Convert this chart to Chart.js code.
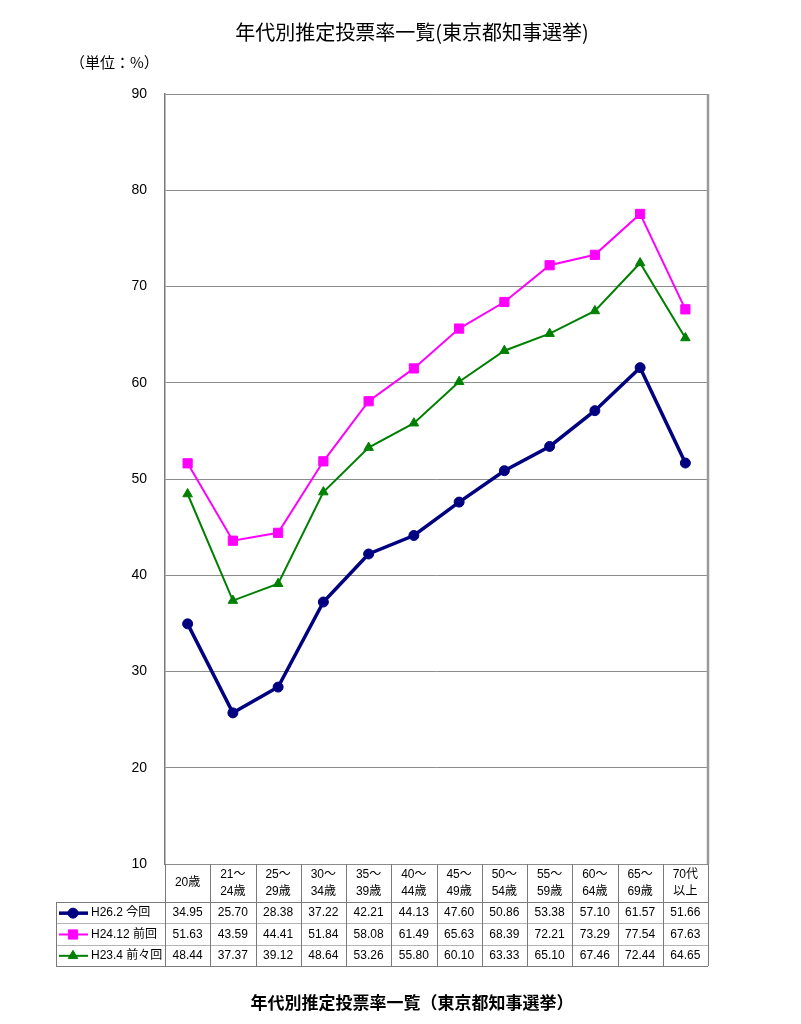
<!DOCTYPE html>
<html><head><meta charset="utf-8">
<script src="https://cdn.jsdelivr.net/npm/chart.js@4.4.1/dist/chart.umd.min.js"></script>
<style>
body{margin:0;background:#fff;}
#wrap{position:relative;width:801px;height:1024px;overflow:hidden;}
canvas{position:absolute;left:0;top:0;}
.t{position:absolute;font-family:"Noto Sans CJK JP";white-space:nowrap;color:#000;}
</style></head><body>
<div id="wrap">
<canvas id="c" width="801" height="1024"></canvas>
<div class="t" style="left:0;width:824px;text-align:center;top:21px;font-size:20px;line-height:22px;">年代別推定投票率一覧(東京都知事選挙)</div>
<div class="t" style="left:70px;top:53px;font-size:15px;line-height:18px;">（単位：%）</div>
<div class="t" style="left:0;width:824px;text-align:center;top:991px;font-size:17px;line-height:22px;font-weight:bold;">年代別推定投票率一覧（東京都知事選挙）</div>
</div>
<script>
const categories = [['20歳'],['21～','24歳'],['25～','29歳'],['30～','34歳'],['35～','39歳'],['40～','44歳'],['45～','49歳'],['50～','54歳'],['55～','59歳'],['60～','64歳'],['65～','69歳'],['70代','以上']];
const seriesNames = ['H26.2 今回','H24.12 前回','H23.4 前々回'];
const h26 = [34.95,25.70,28.38,37.22,42.21,44.13,47.60,50.86,53.38,57.10,61.57,51.66];
const h24 = [51.63,43.59,44.41,51.84,58.08,61.49,65.63,68.39,72.21,73.29,77.54,67.63];
const h23 = [48.44,37.37,39.12,48.64,53.26,55.80,60.10,63.33,65.10,67.46,72.44,64.65];
const yMin = 10, yMax = 90, yStep = 10;

const tableFont = '12px "Liberation Sans", "Noto Sans CJK JP"';

const tablePlugin = {
  id:'dataTable',
  afterDraw(chart){
    const ctx = chart.ctx, ca = chart.chartArea, xs = chart.scales.x;
    const n = categories.length;
    const edges = [];
    for(let i=0;i<=n;i++){
      if(i===0) edges.push(ca.left);
      else if(i===n) edges.push(ca.right);
      else edges.push((xs.getPixelForValue(i-1)+xs.getPixelForValue(i))/2);
    }
    const top = ca.bottom, headerH = 38, rowH = 21.33;
    const hb = top + headerH, bottom = hb + rowH*3;
    const legL = 56;
    ctx.save();
    // right plot border
    ctx.strokeStyle = '#9a9a9a'; ctx.lineWidth = 2.5;
    ctx.beginPath(); ctx.moveTo(ca.right, ca.top); ctx.lineTo(ca.right, ca.bottom); ctx.stroke();
    // table lines
    ctx.lineWidth = 1;
    ctx.strokeStyle = '#b4b4b4';
    for(let r=1;r<3;r++){
      const y = Math.round(hb + rowH*r)+0.5;
      ctx.beginPath(); ctx.moveTo(legL, y); ctx.lineTo(ca.right, y); ctx.stroke();
    }
    ctx.strokeStyle = '#7a7a7a';
    ctx.beginPath(); ctx.moveTo(legL, Math.round(hb)+0.5); ctx.lineTo(ca.right, Math.round(hb)+0.5); ctx.stroke();
    ctx.beginPath(); ctx.moveTo(legL, Math.round(bottom)+0.5); ctx.lineTo(ca.right, Math.round(bottom)+0.5); ctx.stroke();
    ctx.beginPath(); ctx.moveTo(legL+0.5, hb); ctx.lineTo(legL+0.5, bottom); ctx.stroke();
    edges.forEach((x,i)=>{
      const xx = Math.round(x)+0.5;
      ctx.beginPath(); ctx.moveTo(xx, top); ctx.lineTo(xx, bottom); ctx.stroke();
    });
    // header text
    ctx.fillStyle = '#000'; ctx.font = tableFont; ctx.textAlign = 'center'; ctx.textBaseline = 'middle';
    categories.forEach((lab,i)=>{
      const cx = (edges[i]+edges[i+1])/2;
      if(lab.length===1) ctx.fillText(lab[0], cx, top + 19);
      else { ctx.fillText(lab[0], cx, top + 11); ctx.fillText(lab[1], cx, top + 28); }
    });
    // rows
    const dsList = chart.data.datasets;
    dsList.forEach((ds,r)=>{
      const cy = hb + rowH*r + rowH/2 + 0.5;
      ctx.fillStyle = '#000'; ctx.textAlign = 'center';
      ds.data.forEach((v,i)=>{
        ctx.fillText(v.toFixed(2), (edges[i]+edges[i+1])/2, cy);
      });
      // legend key
      ctx.strokeStyle = ds.borderColor; ctx.lineWidth = ds.borderWidth;
      ctx.beginPath(); ctx.moveTo(legL+3, cy); ctx.lineTo(legL+32, cy); ctx.stroke();
      ctx.fillStyle = ds.pointBackgroundColor; ctx.strokeStyle = ds.pointBorderColor; ctx.lineWidth = 1;
      Chart.helpers.drawPoint(ctx, {pointStyle: ds.pointStyle, radius: ds.pointRadius, rotation:0, borderWidth:1}, legL+17, cy);
      ctx.fillStyle = '#000'; ctx.textAlign = 'left';
      ctx.fillText(ds.label, legL+35, cy);
    });
    ctx.restore();
  }
};

new Chart(document.getElementById('c'), {
  type:'line',
  data:{
    labels: categories.map(c=>c.join('')),
    datasets:[
      {label:seriesNames[0], data:h26, borderColor:'#000080', backgroundColor:'#000080', pointBackgroundColor:'#000080', pointBorderColor:'#000080', borderWidth:3.5, pointStyle:'circle', pointRadius:5, pointBorderWidth:1, tension:0},
      {label:seriesNames[1], data:h24, borderColor:'#ff00ff', backgroundColor:'#ff00ff', pointBackgroundColor:'#ff00ff', pointBorderColor:'#ff00ff', borderWidth:2, pointStyle:'rect', pointRadius:6.5, pointBorderWidth:1, tension:0},
      {label:seriesNames[2], data:h23, borderColor:'#008000', backgroundColor:'#008000', pointBackgroundColor:'#008000', pointBorderColor:'#008000', borderWidth:2, pointStyle:'triangle', pointRadius:5.5, pointBorderWidth:1, tension:0}
    ]
  },
  options:{
    responsive:false, animation:false, devicePixelRatio:1,
    layout:{padding:{left:0, right:93, top:94, bottom:58}},
    plugins:{legend:{display:false}, title:{display:false}, tooltip:{enabled:false}},
    elements:{line:{borderJoinStyle:'miter'}},
    scales:{
      x:{
        type:'category', offset:true,
        grid:{display:false, drawTicks:false},
        border:{display:false},
        ticks:{display:false},
        afterFit(s){ s.height = 102; }
      },
      y:{
        min:yMin, max:yMax,
        ticks:{stepSize:yStep, color:'#000', font:{family:'"Liberation Sans"', size:14}, padding:18},
        grid:{color:'#8c8c8c', lineWidth:1, drawTicks:false},
        border:{display:true, color:'#7a7a7a', width:1.5},
        afterFit(s){ s.width = 165; }
      }
    }
  },
  plugins:[tablePlugin]
});
</script>
</body></html>
